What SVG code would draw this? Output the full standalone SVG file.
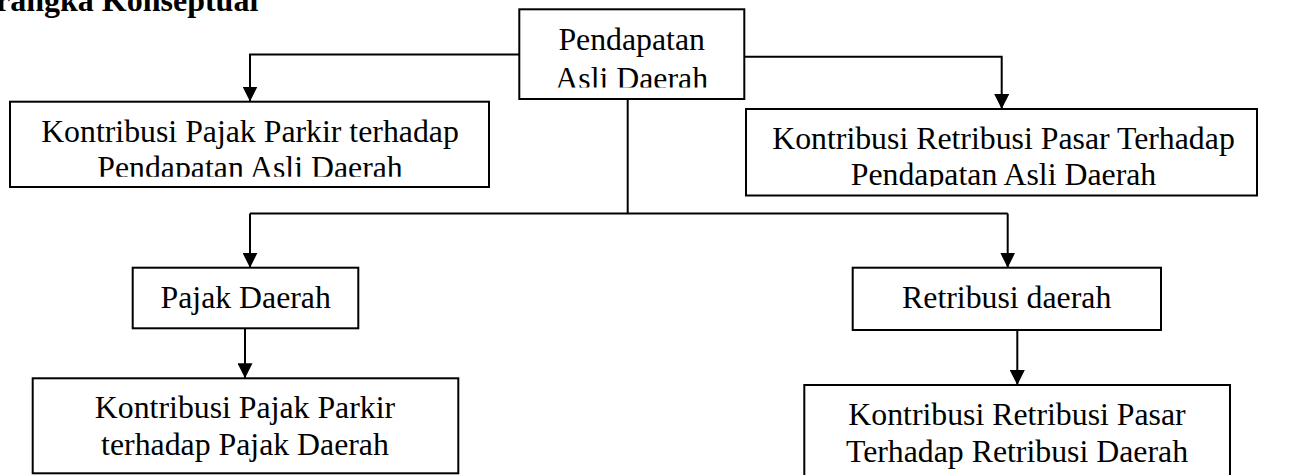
<svg xmlns="http://www.w3.org/2000/svg" width="1289" height="475" viewBox="0 0 1289 475">
<style>
.box{fill:#fff;stroke:#000;stroke-width:2}
.t{font-family:"Liberation Serif","Times New Roman",serif;font-size:31.8px;fill:#000;text-anchor:middle}
.title{font-family:"Liberation Serif","Times New Roman",serif;font-size:32px;font-weight:bold;fill:#000}
.c{fill:none;stroke:#000;stroke-width:2}
</style>
<defs>
<marker id="ah" markerUnits="userSpaceOnUse" markerWidth="15" markerHeight="15" refX="15" refY="7.5" orient="auto" viewBox="0 0 15 15">
<path d="M0,0 L15,7.5 L0,15 z" fill="#000"/>
</marker>
<clipPath id="cp1"><rect x="10" y="101" width="479" height="75.7"/></clipPath>
<clipPath id="cp2"><rect x="519" y="9" width="225" height="78.5"/></clipPath>
<clipPath id="cp3"><rect x="746" y="109" width="511" height="77.5"/></clipPath>
</defs>
<rect width="1289" height="475" fill="#fff"/>
<text class="title" x="-4" y="10.5">rangka Konseptual</text>

<g id="connectors">
<path class="c" d="M519,54.5 H250 V101.5" marker-end="url(#ah)"/>
<path class="c" d="M744,56.7 H1001.7 V109" marker-end="url(#ah)"/>
<path class="c" d="M627.7,99 V213.5"/>
<path class="c" d="M250,213.5 H1007.7"/>
<path class="c" d="M250,213.5 V267.7" marker-end="url(#ah)"/>
<path class="c" d="M1007.7,213.5 V267.7" marker-end="url(#ah)"/>
<path class="c" d="M245,324 V378.3" marker-end="url(#ah)"/>
<path class="c" d="M1017.3,330 V385" marker-end="url(#ah)"/>
</g>

<g id="pad">
<rect class="box" x="519.3" y="9.3" width="225" height="89.7"/>
<g clip-path="url(#cp2)">
<text class="t" x="631.7" y="50">Pendapatan</text>
<text class="t" x="631.7" y="88.5">Asli Daerah</text>
</g>
</g>

<g id="kontribusi-pajak-pad">
<rect class="box" x="10" y="101.7" width="479" height="85.3"/>
<g clip-path="url(#cp1)">
<text class="t" x="250" y="141.5">Kontribusi Pajak Parkir terhadap</text>
<text class="t" x="250" y="178">Pendapatan Asli Daerah</text>
</g>
</g>

<g id="kontribusi-retribusi-pad">
<rect class="box" x="746" y="109" width="511" height="86.5"/>
<g clip-path="url(#cp3)">
<text class="t" x="1003.5" y="148.5">Kontribusi Retribusi Pasar Terhadap</text>
<text class="t" x="1003.5" y="185.2">Pendapatan Asli Daerah</text>
</g>
</g>

<g id="pajak-daerah">
<rect class="box" x="132.7" y="267.7" width="225.6" height="60.6"/>
<text class="t" x="245.7" y="307.7">Pajak Daerah</text>
</g>

<g id="retribusi-daerah">
<rect class="box" x="852.7" y="267.7" width="308.3" height="62.3"/>
<text class="t" x="1006.7" y="307.7">Retribusi daerah</text>
</g>

<g id="kontribusi-pajak-pajak">
<rect class="box" x="32.7" y="378.3" width="425.6" height="95"/>
<text class="t" x="245" y="418.3">Kontribusi Pajak Parkir</text>
<text class="t" x="245" y="455">terhadap Pajak Daerah</text>
</g>

<g id="kontribusi-retribusi-retribusi">
<rect class="box" x="804.3" y="385" width="425.7" height="100"/>
<text class="t" x="1017" y="425">Kontribusi Retribusi Pasar</text>
<text class="t" x="1017" y="461.7">Terhadap Retribusi Daerah</text>
</g>
</svg>
